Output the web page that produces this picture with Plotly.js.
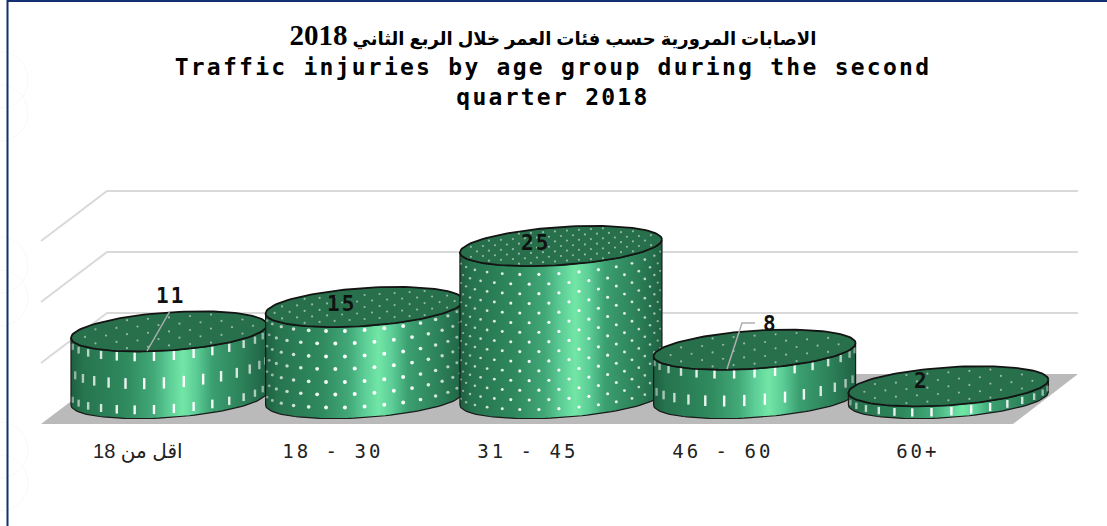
<!DOCTYPE html>
<html><head><meta charset="utf-8">
<script src="https://cdn.plot.ly/plotly-3.0.1.min.js"></script>
<style>html,body{margin:0;padding:0;background:#fff}#chart{width:1107px;height:526px}</style>
</head><body><div id="chart"></div>
<script>
// ---- data ----
const categories = ["اقل من 18", "18 - 30", "31 - 45", "46 - 60", "60+"];
const injuries = [11, 15, 25, 8, 2];
const gridValues = [10, 20, 30];
const titleArabic = "الاصابات المرورية حسب فئات العمر خلال الربع الثاني";
const titleYear = "2018";
const titleEnglishA = "Traffic injuries by age group during the second";
const titleEnglishB = "quarter 2018";

// ---- scale set-up (pixel calibration of the axes) ----
const W = 1107, H = 526, floorPy = 424;
const catPx = 195, cat0Px = 169, unitPx = 6.1, basePy = 398.5;
const X = px => (px - cat0Px) / catPx;
const Y = py => (basePy - py) / unitPx;

// ---- style tweaks per cylinder (3-D look) ----
const cylShift = [0, 0.003, 0.01, 0.003, -0.003];
const cylA = [98, 99, 101, 101, 100];
const b = 19, s = 6.5;
const textures = [
  {rows:[.92,.52,.13], dTheta:.102, th0:.05, sym:'line-ns-open', size:[6.5,8,6.5], topDx:21, topDy:7},
  {dense:true, rowPx:25.5, start:[11,24], dTheta:.1, th0:0, sym:'circle', size:4, topDx:15, topDy:6},
  {dense:true, rowPx:19.3, start:[9,18.6], dTheta:.1, th0:-.02, sym:'circle', size:3.2, topDx:12, topDy:5},
  {rows:[.91,.36], dTheta:.102, th0:0, sym:'line-ns-open', size:[6.5,8], topDx:21, topDy:7},
  {rows:[.5], dTheta:.2, th0:.03, sym:'line-ns-open', size:[6], topDx:21, topDy:7}
];
const gradient = [[0,'#1e5f40'],[.06,'#26744e'],[.28,'#2f8a5e'],[.42,'#42a877'],[.5,'#5ccd96'],[.57,'#72e6a6'],[.64,'#5ccd96'],[.72,'#3b9f70'],[.88,'#2c8058'],[1,'#1f6244']];
// label offset from the value's point, pixels right / up
const labelShift = [[1,35],[-23,3],[-24,3],[16,26],[-28,5]];

const traces = [];
traces.push({x:[41,1013,1078,107,41].map(X), y:[424,424,374,374,424].map(Y), mode:'lines', fill:'toself',
  fillcolor:'#bababa', line:{width:0}, hoverinfo:'skip', showlegend:false});
gridValues.forEach(v=>{
  const back = 374 - v*unitPx, front = 424 - v*unitPx;
  traces.push({x:[41,107,1078].map(X), y:[front,back,back].map(Y), mode:'lines',
    line:{color:'#d9d9d9',width:2}, hoverinfo:'skip', showlegend:false});
});

function ellipsePoint(xc, a, v, t){
  return [xc + a*Math.cos(t)/catPx, v + (b*Math.sin(t) + s*Math.cos(t))/unitPx];
}
injuries.forEach((val,i)=>{
  const xc = i + cylShift[i], a = cylA[i], tex = textures[i];
  const bx=[],by=[];
  for(let k=0;k<=60;k++){const t=Math.PI+Math.PI*k/60;const p=ellipsePoint(xc,a,0,t);bx.push(p[0]);by.push(p[1]);}
  for(let k=60;k>=0;k--){const t=Math.PI+Math.PI*k/60;const p=ellipsePoint(xc,a,val,t);bx.push(p[0]);by.push(p[1]);}
  bx.push(bx[0]);by.push(by[0]);
  traces.push({x:bx,y:by,mode:'lines',fill:'toself',
    fillgradient:{type:'horizontal',colorscale:gradient},fillcolor:'#2f8a5e',
    line:{color:'#1a1a1a',width:1.2},hoverinfo:'skip',showlegend:false});
  // body texture
  const dx=[],dy=[],ds=[],dop=[];
  const hv = val*unitPx;
  const nCol = Math.ceil((Math.PI/2)/tex.dTheta)+1;
  for(let c=-nCol;c<=nCol;c++){
    const th = c*tex.dTheta + tex.th0;
    if(Math.abs(th)>Math.PI/2-0.1) continue;
    const sx = Math.sin(th);
    const arc = -b*Math.cos(th) + s*sx;
    const fade = 0.3 + 0.7*Math.cos(th);
    const odd=((c%2)+2)%2;
    const add=(py,size)=>{
      dx.push(xc + a*sx/catPx);
      dy.push((py + arc)/unitPx);
      ds.push(size*(0.6+0.4*Math.cos(th))); dop.push(fade);
    };
    if(tex.dense){
      for(let py=tex.start[odd];py<hv-2;py+=tex.rowPx) add(py,tex.size);
    } else {
      tex.rows.forEach((fr,ri)=>{ if(tex.rows.length===1 || ri%2===odd) add(fr*hv,tex.size[ri]); });
    }
  }
  const isLine = tex.sym!=='circle';
  traces.push({x:dx,y:dy,mode:'markers',marker:{symbol:tex.sym,size:ds,opacity:dop,color:'#ffffff',line:{color:'#ffffff',width:isLine?2.4:0}},hoverinfo:'skip',showlegend:false});
  // top
  const tx=[],ty=[];
  for(let k=0;k<=120;k++){const p=ellipsePoint(xc,a,val,2*Math.PI*k/120);tx.push(p[0]);ty.push(p[1]);}
  traces.push({x:tx,y:ty,mode:'lines',fill:'toself',fillcolor:'#27704b',line:{color:'#141414',width:1.8},hoverinfo:'skip',showlegend:false});
  // top texture
  const ux=[],uy=[];
  const R=Math.ceil(b*1.3/tex.topDy), C=Math.ceil(a/tex.topDx)+1;
  for(let r=-R;r<=R;r++)for(let c=-C;c<=C;c++){
    const ox=(c+(((r%2)+2)%2)/2)*tex.topDx, oy=r*tex.topDy;
    const sy = oy + s*ox/a;
    const q=(ox/a)*(ox/a)+(oy/b)*(oy/b);
    if(q<0.88){ ux.push(xc+ox/catPx); uy.push(val+sy/unitPx); }
  }
  traces.push({x:ux,y:uy,mode:'markers',marker:{symbol:'circle',size:2.2,color:'rgba(255,255,255,0.5)'},hoverinfo:'skip',showlegend:false});
});

// leader lines
traces.push({x:[170,147].map(X),y:[311,351].map(Y),mode:'lines',line:{color:'#aeaeae',width:1.5},hoverinfo:'skip',showlegend:false});
traces.push({x:[727,742,755].map(X),y:[369,323,323].map(Y),mode:'lines',line:{color:'#aeaeae',width:1.5},hoverinfo:'skip',showlegend:false});

const annotations = injuries.map((v,i)=>({
  x:i, y:v, xref:'x', yref:'y', text:'<span style="letter-spacing:2px"><b>'+v+'</b></span>', showarrow:false,
  xshift:labelShift[i][0], yshift:labelShift[i][1],
  font:{family:'DejaVu Sans Mono',size:21,color:'#111'}
}));

// faint background ornament and border
const orn = 'rgba(0,0,0,0.03)';
const PX = px=>px/W, PY = py=>(floorPy-py)/floorPy;
const shapes = [];
[[0,80,28],[0,113,28],[0,265,28],[0,298,28],[0,450,28],[0,483,28]].forEach(c=>{
  shapes.push({type:'circle',xref:'paper',yref:'paper',layer:'below',
    x0:PX(c[0]-c[2]),x1:PX(c[0]+c[2]),y0:PY(c[1]+c[2]),y1:PY(c[1]-c[2]),line:{color:orn,width:1}});
});
shapes.push({type:'line',xref:'paper',yref:'paper',x0:PX(7.5),x1:PX(7.5),y0:PY(0),y1:PY(H),line:{color:'#12306f',width:2}});
shapes.push({type:'line',xref:'paper',yref:'paper',x0:PX(7),x1:PX(W),y0:PY(1),y1:PY(1),line:{color:'#12306f',width:2}});

const spaced = t=>'<span style="letter-spacing:2.25px;font-family:\'DejaVu Sans Mono\';font-weight:bold">'+t+'</span>';
const tickLabel = c=> /[\u0600-\u06FF]/.test(c)
  ? '<span style="font-family:\'Liberation Sans\',\'DejaVu Sans\';font-size:20px">'+c+'</span>'
  : '<span style="letter-spacing:3px">'+c+'</span>';
const arabicLine = '<span style="font-family:\'Liberation Sans\',\'DejaVu Sans\';font-size:18px;font-weight:bold">'+titleArabic+' </span>'+
  '<span style="font-family:\'Liberation Serif\';font-size:29px;font-weight:bold">'+titleYear+'</span>';

const layout = {
  width:W,height:H,margin:{l:0,r:0,t:0,b:H-floorPy},paper_bgcolor:'#ffffff',plot_bgcolor:'rgba(0,0,0,0)',
  title:{text:arabicLine+'<br>'+spaced(titleEnglishA)+'<br>'+spaced(titleEnglishB),
    font:{family:'DejaVu Sans Mono',size:23,color:'#000'},x:0.4995,xanchor:'center',y:1-45/H,yanchor:'top',yref:'container'},
  xaxis:{range:[X(0),X(W)],tickmode:'array',tickvals:categories.map((c,i)=>i-0.16),ticktext:categories.map(tickLabel),
    showgrid:false,zeroline:false,showline:false,ticks:'outside',ticklen:10,tickcolor:'rgba(0,0,0,0)',
    tickangle:0,tickfont:{family:'DejaVu Sans Mono',size:19,color:'#222'},fixedrange:true},
  yaxis:{range:[Y(floorPy),Y(0)],visible:false,fixedrange:true},
  showlegend:false,annotations,shapes
};
Plotly.newPlot('chart',traces,layout,{displayModeBar:false,responsive:false});
</script></body></html>
